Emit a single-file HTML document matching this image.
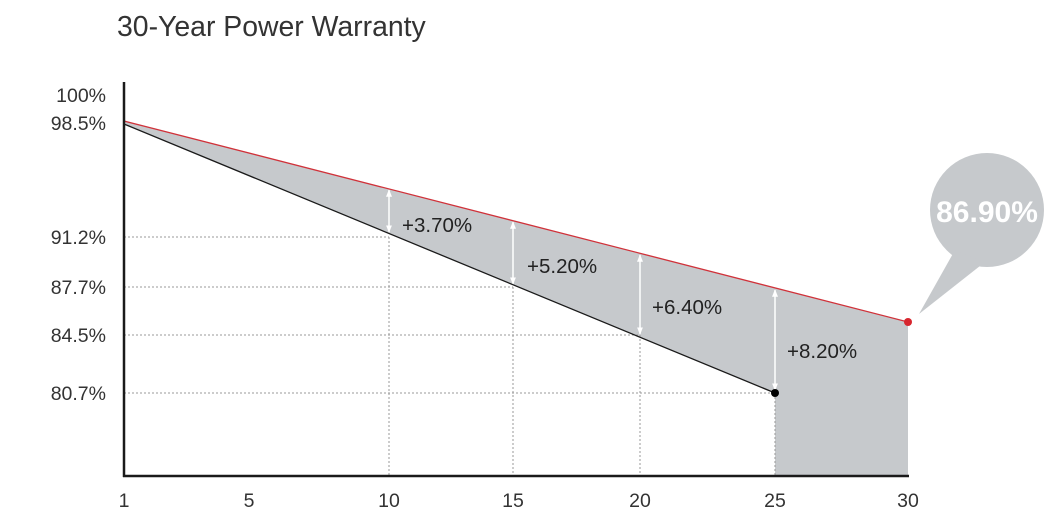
<!DOCTYPE html>
<html><head><meta charset="utf-8"><style>
html,body{margin:0;padding:0;background:#fff;}
svg{display:block;font-family:"Liberation Sans",sans-serif;}
</style></head><body>
<svg width="1060" height="529" viewBox="0 0 1060 529" xmlns="http://www.w3.org/2000/svg">
<defs>
<marker id="ah" viewBox="0 0 10 10" refX="9" refY="5" markerWidth="5" markerHeight="5" orient="auto-start-reverse"><path d="M0,1 L10,5 L0,9 z" fill="#fff"/></marker>
</defs>
<text x="117" y="36" font-size="28.4" fill="#333">30-Year Power Warranty</text>
<polygon points="124,121 908,322 908,476 775,476 775,393 124,124" fill="#c6c9cc"/>
<g stroke="#999" stroke-width="1" stroke-dasharray="2,2" fill="none">
<line x1="124" y1="237" x2="389" y2="237"/><line x1="389" y1="237" x2="389" y2="476"/>
<line x1="124" y1="287" x2="513" y2="287"/><line x1="513" y1="287" x2="513" y2="476"/>
<line x1="124" y1="335" x2="640" y2="335"/><line x1="640" y1="335" x2="640" y2="476"/>
<line x1="124" y1="393" x2="775" y2="393"/><line x1="775" y1="393" x2="775" y2="476"/>
</g>
<g stroke="#fff" stroke-width="1.5" marker-start="url(#ah)" marker-end="url(#ah)">
<line x1="389" y1="190" x2="389" y2="232"/>
<line x1="513" y1="222" x2="513" y2="284"/>
<line x1="640" y1="255" x2="640" y2="334"/>
<line x1="775" y1="290" x2="775" y2="390"/>
</g>
<line x1="124" y1="121" x2="908" y2="322" stroke="#d0323a" stroke-width="1.3"/>
<line x1="124" y1="124" x2="775" y2="393" stroke="#1a1a1a" stroke-width="1.3"/>
<circle cx="908" cy="322" r="4" fill="#d7262e"/>
<circle cx="775" cy="393" r="4" fill="#000"/>
<line x1="124" y1="82" x2="124" y2="477" stroke="#1a1a1a" stroke-width="2.5"/>
<line x1="123" y1="476" x2="909" y2="476" stroke="#1a1a1a" stroke-width="2.5"/>
<circle cx="987" cy="210" r="57" fill="#c6c9cc"/>
<polygon points="955,250 985,262 919,314" fill="#c6c9cc"/>
<text x="987" y="222" font-size="30" font-weight="bold" fill="#fff" text-anchor="middle">86.90%</text>
<g font-size="20.5" fill="#222">
<text x="402" y="232">+3.70%</text>
<text x="527" y="273">+5.20%</text>
<text x="652" y="314">+6.40%</text>
<text x="787" y="358">+8.20%</text>
</g>
<g font-size="19.5" fill="#333" text-anchor="end">
<text x="106" y="102">100%</text>
<text x="106" y="130">98.5%</text>
<text x="106" y="244">91.2%</text>
<text x="106" y="294">87.7%</text>
<text x="106" y="342">84.5%</text>
<text x="106" y="400">80.7%</text>
</g>
<g font-size="19.5" fill="#333" text-anchor="middle">
<text x="124" y="507">1</text>
<text x="249" y="507">5</text>
<text x="389" y="507">10</text>
<text x="513" y="507">15</text>
<text x="640" y="507">20</text>
<text x="775" y="507">25</text>
<text x="908" y="507">30</text>
</g>
</svg>
</body></html>
